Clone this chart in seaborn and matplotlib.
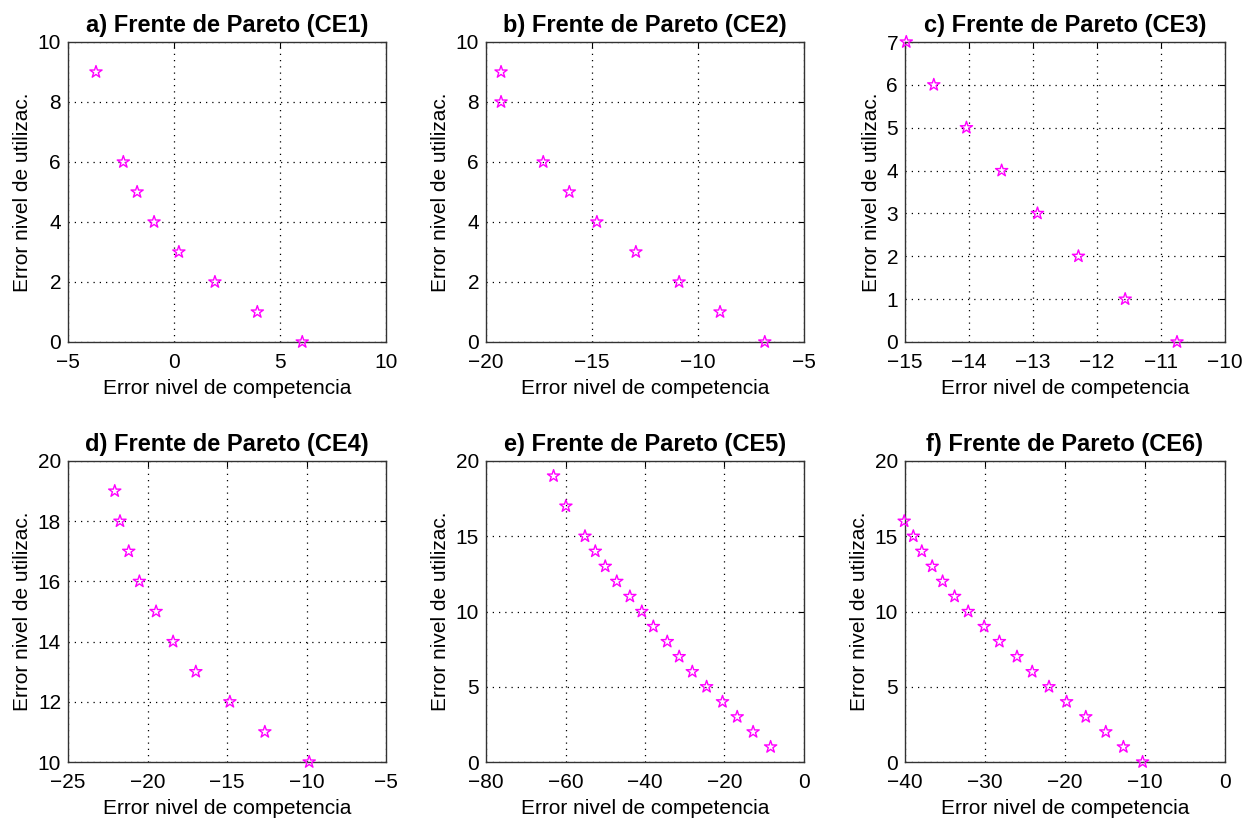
import matplotlib
matplotlib.use("Agg")
import matplotlib.pyplot as plt
import seaborn as sns
import pandas as pd

# ---- data ----
titles = ["a) Frente de Pareto (CE1)", "b) Frente de Pareto (CE2)", "c) Frente de Pareto (CE3)",
          "d) Frente de Pareto (CE4)", "e) Frente de Pareto (CE5)", "f) Frente de Pareto (CE6)"]

ce1_x = [-3.68, -2.39, -1.74, -0.94, 0.23, 1.93, 3.93, 6.05]
ce1_y = [9, 6, 5, 4, 3, 2, 1, 0]

ce2_x = [-19.29, -19.29, -17.30, -16.07, -14.77, -12.93, -10.89, -8.96, -6.85]
ce2_y = [9, 8, 6, 5, 4, 3, 2, 1, 0]

ce3_x = [-14.98, -14.55, -14.04, -13.49, -12.93, -12.29, -11.56, -10.75]
ce3_y = [7, 6, 5, 4, 3, 2, 1, 0]

ce4_x = [-22.06, -21.73, -21.18, -20.51, -19.46, -18.39, -16.96, -14.82, -12.62, -9.83]
ce4_y = [19, 18, 17, 16, 15, 14, 13, 12, 11, 10]

ce5_x = [-63.0, -59.9, -55.1, -52.5, -50.0, -47.1, -43.8, -40.8, -37.9, -34.4,
         -31.4, -28.1, -24.5, -20.5, -16.8, -12.8, -8.4]
ce5_y = [19, 17, 15, 14, 13, 12, 11, 10, 9, 8, 7, 6, 5, 4, 3, 2, 1]

ce6_x = [-40.1, -38.96, -37.9, -36.6, -35.3, -33.8, -32.1, -30.1, -28.2, -26.0,
         -24.1, -22.0, -19.8, -17.4, -14.9, -12.7, -10.3]
ce6_y = [16, 15, 14, 13, 12, 11, 10, 9, 8, 7, 6, 5, 4, 3, 2, 1, 0]

xlims = [(-5, 10), (-20, -5), (-15, -10), (-25, -5), (-80, 0), (-40, 0)]
ylims = [(0, 10), (0, 10), (0, 7), (10, 20), (0, 20), (0, 20)]
xticks = [[-5, 0, 5, 10], [-20, -15, -10, -5], [-15, -14, -13, -12, -11, -10],
          [-25, -20, -15, -10, -5], [-80, -60, -40, -20, 0], [-40, -30, -20, -10, 0]]
yticks = [[0, 2, 4, 6, 8, 10], [0, 2, 4, 6, 8, 10], [0, 1, 2, 3, 4, 5, 6, 7],
          [10, 12, 14, 16, 18, 20], [0, 5, 10, 15, 20], [0, 5, 10, 15, 20]]

xs = [ce1_x, ce2_x, ce3_x, ce4_x, ce5_x, ce6_x]
ys = [ce1_y, ce2_y, ce3_y, ce4_y, ce5_y, ce6_y]

xlabel = "Error nivel de competencia"
ylabel = "Error nivel de utilizac."

# ---- styling ----
sns.set_theme(style="white")
plt.rcParams["font.family"] = ["Liberation Sans", "DejaVu Sans"]
plt.rcParams["axes.unicode_minus"] = True
plt.rcParams["text.color"] = "black"
plt.rcParams["axes.labelcolor"] = "black"

fig = plt.figure(figsize=(12.48, 8.23), dpi=100)

W, H = 1248, 823
boxes = [(68, 42, 386, 342), (486, 42, 804, 342), (905, 42, 1225, 342),
         (68, 461, 386, 762), (486, 461, 804, 762), (905, 461, 1225, 762)]

for i in range(6):
    l, t, r, b = boxes[i]
    ax = fig.add_axes([l / W, 1 - b / H, (r - l) / W, (b - t) / H])
    df = pd.DataFrame({"x": xs[i], "y": ys[i]})
    sns.scatterplot(data=df, x="x", y="y", ax=ax, marker="*", s=85,
                    facecolors="none", edgecolor="#ff00ff", linewidth=1.0,
                    color="#ff00ff", clip_on=False, zorder=3)
    ax.set_xlim(*xlims[i])
    ax.set_ylim(*ylims[i])
    ax.set_xticks(xticks[i])
    ax.set_yticks(yticks[i])
    ax.grid(True, color="black", linestyle=(0, (1, 4)), linewidth=0.9)
    ax.tick_params(direction="in", top=True, right=True, length=4,
                   labelsize=15, colors="black", width=0.8)
    ax.tick_params(axis="x", pad=8)
    ax.tick_params(axis="y", pad=5)
    for sp in ax.spines.values():
        sp.set_color("#333333")
        sp.set_linewidth(1.0)
    ax.set_xlabel(xlabel, fontsize=15, labelpad=5, color="black")
    ax.set_ylabel(ylabel, fontsize=15, labelpad=4, color="black")
    ax.set_title(titles[i], fontsize=17, fontweight="bold", pad=7, color="black")

fig.savefig("out.png", dpi=100)
